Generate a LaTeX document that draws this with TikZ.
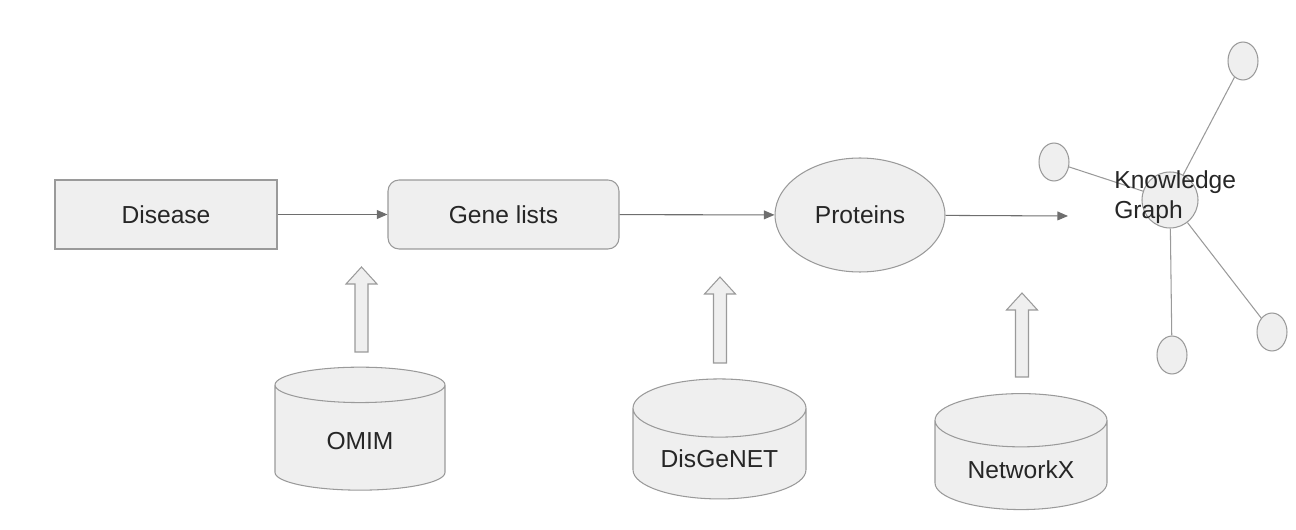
\documentclass[tikz,border=0pt]{standalone}
\usepackage{fontspec}
\setmainfont{Liberation Sans}
\usetikzlibrary{shapes.geometric,arrows.meta}
\definecolor{boxfill}{HTML}{EFEFEF}
\definecolor{boxline}{HTML}{9A9A9A}
\definecolor{flowline}{HTML}{6E6E6E}
\definecolor{labeltext}{HTML}{262626}
\tikzset{
  stepbox/.style={draw=boxline,fill=boxfill,line width=0.6pt,text=labeltext,
    font=\fontsize{14pt}{17pt}\selectfont,minimum height=1.38cm},
  source/.style={stepbox,cylinder,shape border rotate=90,aspect=0.45,outer sep=0pt},
  sat/.style={ellipse,draw=boxline,fill=boxfill,line width=0.6pt,minimum width=0.6cm,minimum height=0.76cm,inner sep=0pt},
  flow/.style={draw=flowline,line width=0.6pt,-{Triangle[length=6pt,width=5pt]}},
  hollow/.style={draw=boxline,fill=boxfill,line width=0.6pt,line join=miter}
}
\newcommand{\feedarrow}[3]{% x, tip, tail
  \draw[hollow] (#1-6.5,#3) -- (#1-6.5,#2+17) -- (#1-15.5,#2+17) -- (#1,#2)
    -- (#1+15.5,#2+17) -- (#1+6.5,#2+17) -- (#1+6.5,#3) -- cycle;}

\begin{document}
\begin{tikzpicture}[x=0.02cm,y=-0.02cm]
  \useasboundingbox (0,0) rectangle (1296,530);

  \node [stepbox,minimum width=4.44cm] (disease) at (166,214.5) {Disease};
  \node [stepbox,rounded corners=0.22cm,minimum width=4.62cm] (genes) at (503.5,214.5) {Gene lists};
  \node [stepbox,ellipse,minimum width=3.4cm,minimum height=2.28cm] (proteins) at (860,215) {Proteins};
  \coordinate (kgin) at (1068,216);

  \draw [flow] (disease) -- (genes);
  \draw [flow] (genes) -- (proteins);
  \draw [flow] (proteins) -- (kgin);

  % knowledge graph
  \node [sat,minimum size=1.12cm] (kg) at (1170,200) {};
  \node [sat] (kgtop) at (1243,61) {};
  \node [sat] (kgleft) at (1054,162) {};
  \node [sat] (kgbot) at (1172,355) {};
  \node [sat] (kgright) at (1272,332) {};
  \foreach \s in {kgtop,kgleft,kgbot,kgright}
    \draw [draw=boxline,line width=0.6pt] (kg) -- (\s);
  \node [text=labeltext,font=\fontsize{14pt}{17pt}\selectfont,align=left,anchor=west,inner sep=0pt] (kglabel) at (1114,197) {Knowledge\\Graph};

  % data sources
  \node [source,minimum width=3.4cm,minimum height=2.46cm] (omim) at (360,441) {OMIM};
  \node [source,minimum width=3.46cm,minimum height=2.4cm] (disgenet) at (719.5,459) {DisGeNET};
  \node [source,minimum width=3.44cm,minimum height=2.32cm] (networkx) at (1021,470) {NetworkX};

  \feedarrow{361.5}{267}{352}
  \feedarrow{720}{277}{363}
  \feedarrow{1022}{293}{377}
\end{tikzpicture}
\end{document}
